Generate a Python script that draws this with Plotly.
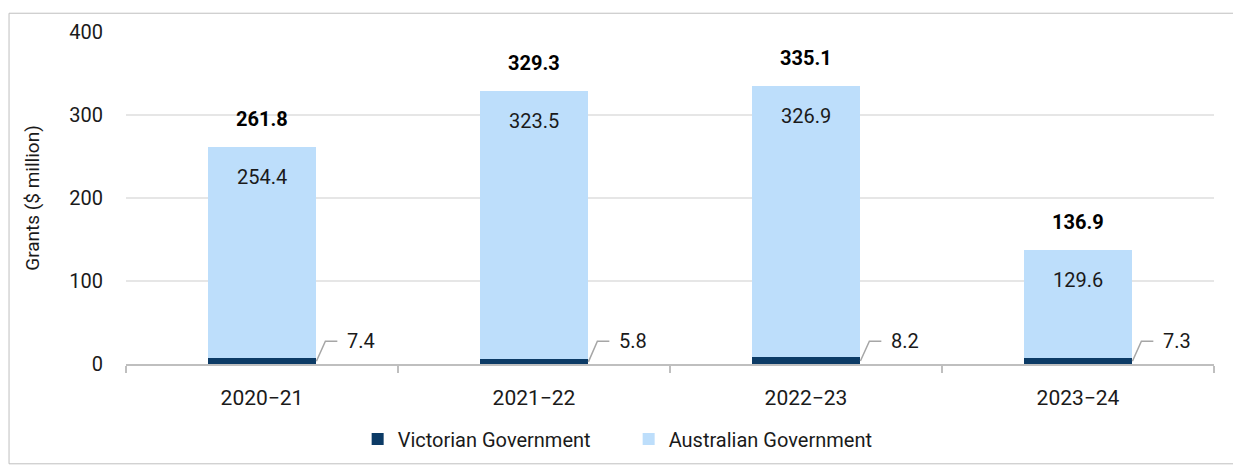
import plotly.graph_objects as go

categories = ["2020\u221221", "2021\u221222", "2022\u221223", "2023\u221224"]
victorian = [7.4, 5.8, 8.2, 7.3]
australian = [254.4, 323.5, 326.9, 129.6]
totals = [261.8, 329.3, 335.1, 136.9]
y_ticks = [0, 100, 200, 300, 400]

VIC_COLOR = "#0C3B66"
AUS_COLOR = "#BDDEFB"
FONT = "Roboto"
TXT = "#1a1a1a"

fig = go.Figure()
fig.add_trace(go.Bar(
    x=categories, y=victorian, name="Victorian Government",
    marker=dict(color=VIC_COLOR, line=dict(width=0)), width=0.4,
))
fig.add_trace(go.Bar(
    x=categories, y=australian, name="Australian Government",
    marker=dict(color=AUS_COLOR, line=dict(width=0)), width=0.4,
))

annotations = []
shapes = []
for i, (cat, tot, vic, aus) in enumerate(zip(categories, totals, victorian, australian)):
    annotations.append(dict(
        x=i, y=tot, xref="x", yref="y", text=f"<b>{tot:.1f}</b>",
        showarrow=False, yanchor="bottom", yshift=14,
        font=dict(family=FONT, size=20, color="#000000"),
    ))
    annotations.append(dict(
        x=i, y=vic + aus, xref="x", yref="y", text=f"{aus:.1f}",
        showarrow=False, yanchor="top", yshift=-16,
        font=dict(family=FONT, size=20, color=TXT),
    ))
    ylab = 27.4
    annotations.append(dict(
        x=i + 0.305, y=ylab, xref="x", yref="y", text=f"{vic:.1f}",
        showarrow=False, xanchor="left", yanchor="middle",
        font=dict(family=FONT, size=20, color=TXT),
    ))
    shapes.append(dict(
        type="path", xref="x", yref="y",
        path=f"M {i+0.2},{vic*0.45} L {i+0.233},{ylab} L {i+0.277},{ylab}",
        line=dict(color="#A6A6A6", width=1.5),
    ))

# outer border
shapes.append(dict(
    type="rect", xref="paper", yref="paper",
    x0=-0.1075, x1=1.0202, y0=-0.3006, y1=1.0565,
    line=dict(color="#BFBFBF", width=1), layer="below",
))

fig.update_layout(
    barmode="stack",
    width=1241, height=470,
    margin=dict(l=118, r=35, t=20, b=114),
    paper_bgcolor="white", plot_bgcolor="white",
    font=dict(family=FONT, size=20, color=TXT),
    showlegend=True,
    legend=dict(
        orientation="h", x=0.462, xanchor="center", y=-0.226, yanchor="middle",
        font=dict(family=FONT, size=20, color=TXT),
        entrywidth=226, itemwidth=30, traceorder="normal",
    ),
    annotations=annotations,
    shapes=shapes,
    xaxis=dict(
        type="category", showgrid=False, showline=True, linecolor="#BFBFBF",
        linewidth=1.5, ticks="outside", tickson="boundaries", ticklen=7,
        tickcolor="#BFBFBF", tickwidth=1.5,
        tickfont=dict(family=FONT, size=21, color=TXT),
        ticklabelstandoff=14,
        range=[-0.5, 3.5],
    ),
    yaxis=dict(
        range=[0, 400], tickvals=y_ticks, showgrid=True, gridcolor="#E6E6E6",
        gridwidth=1.5, zeroline=False, showline=False,
        tickfont=dict(family=FONT, size=20, color=TXT),
        ticklabelstandoff=22,
        title=dict(text="Grants ($ million)", font=dict(family=FONT, size=19, color=TXT), standoff=24),
    ),
)

fig.write_html("out.html")
